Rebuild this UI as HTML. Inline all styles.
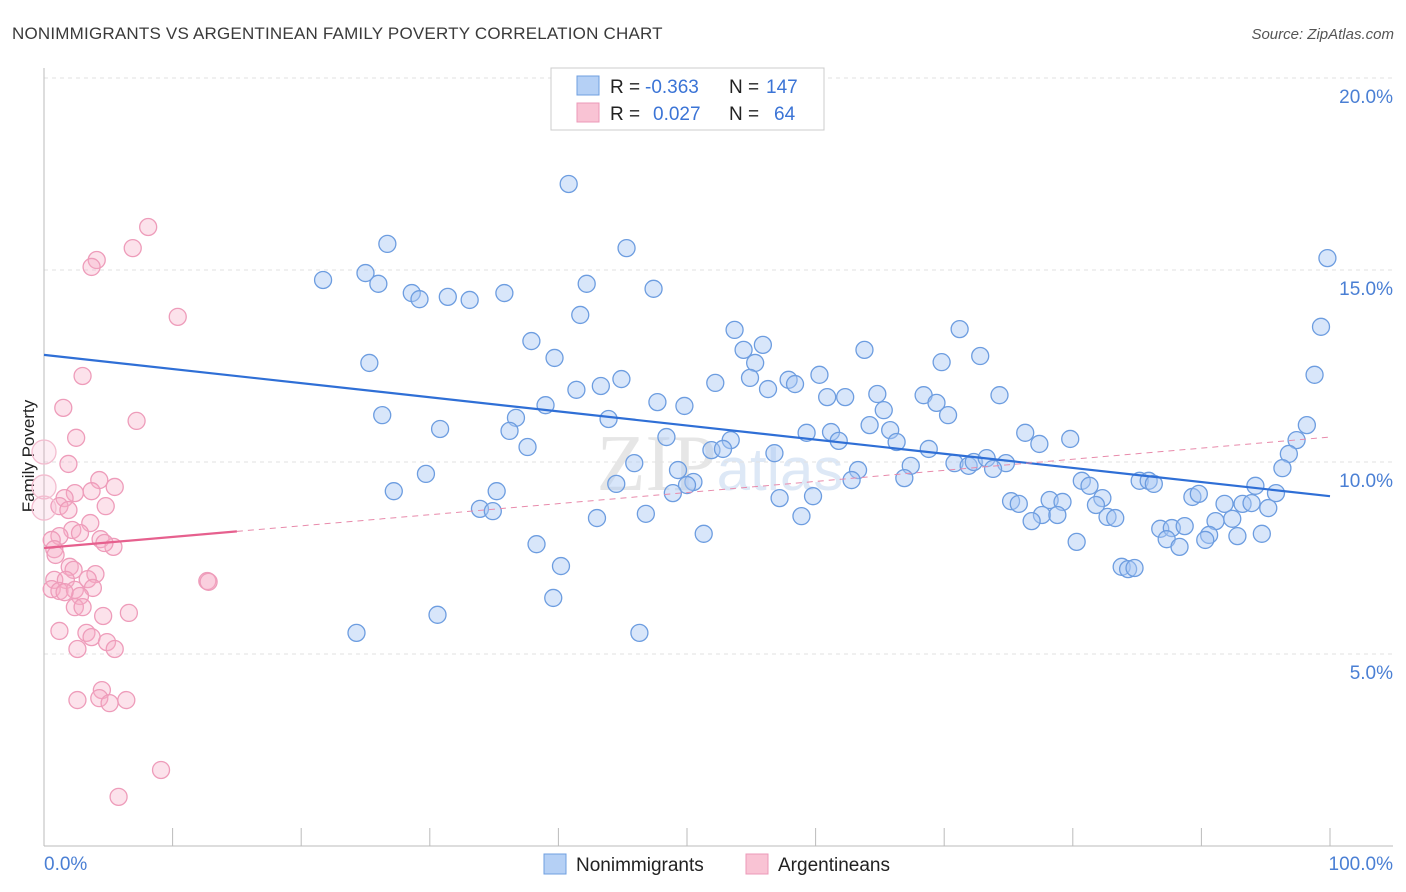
<!DOCTYPE html>
<html><head><meta charset="utf-8">
<style>
body{margin:0;background:#fff;font-family:"Liberation Sans",sans-serif;}
svg{display:block}
</style></head>
<body>
<svg id="chart" width="1406" height="892" xmlns="http://www.w3.org/2000/svg">
<text x="12" y="39" font-size="17" fill="#3a3a3a" letter-spacing="0.2">NONIMMIGRANTS VS ARGENTINEAN FAMILY POVERTY CORRELATION CHART</text>
<text x="1394" y="39" font-size="15" fill="#555" font-style="italic" text-anchor="end">Source: ZipAtlas.com</text>
<text transform="translate(34,456) rotate(-90)" font-size="17" fill="#222" text-anchor="middle">Family Poverty</text>
<text x="720" y="490" font-size="80" fill="#e6e6e6" text-anchor="middle" font-family="Liberation Serif">ZIP<tspan fill="#dde8f6" font-family="Liberation Sans" font-size="60">atlas</tspan></text>
<g id="grid"></g>
<g id="axes"></g>
<g id="pink"></g>
<g id="blue"></g>
<g id="trends"></g>
<g>
<rect x="551" y="68" width="273" height="62" fill="#fff" stroke="#ccc"/>
<rect x="577" y="76" width="22" height="19" fill="#b5d0f5" stroke="#6f9fe0"/>
<rect x="577" y="103" width="22" height="19" fill="#f9c3d4" stroke="#ec9ab8"/>
<text x="610" y="93" font-size="19" fill="#222">R =</text>
<text x="645" y="93" font-size="19" fill="#3b74d6">-0.363</text>
<text x="729" y="93" font-size="19" fill="#222">N =</text>
<text x="766" y="93" font-size="19" fill="#3b74d6">147</text>
<text x="610" y="120" font-size="19" fill="#222">R =</text>
<text x="653" y="120" font-size="19" fill="#3b74d6">0.027</text>
<text x="729" y="120" font-size="19" fill="#222">N =</text>
<text x="774" y="120" font-size="19" fill="#3b74d6">64</text>
</g>
<g>
<rect x="544" y="854" width="22" height="20" fill="#b5d0f5" stroke="#6f9fe0"/>
<text x="576" y="871" font-size="19" fill="#222">Nonimmigrants</text>
<rect x="746" y="854" width="22" height="20" fill="#f9c3d4" stroke="#ec9ab8"/>
<text x="778" y="871" font-size="19" fill="#222">Argentineans</text>
</g>
</svg>
<script>
const blueX=[40.8,26.7,45.3,99.8,21.7,25.0,26.0,28.6,29.2,31.4,33.1,35.8,42.2,47.4,41.7,99.3,53.7,71.2,37.9,54.4,55.9,63.8,25.3,39.7,55.3,69.8,72.8,98.8,44.9,52.2,54.9,57.9,58.4,60.3,41.4,43.3,56.3,60.9,62.3,64.8,68.4,74.3,47.7,49.8,39.0,69.4,26.3,65.3,70.3,36.7,43.9,98.2,30.8,36.2,48.4,59.3,61.2,64.2,65.8,76.3,97.4,53.4,61.8,66.3,77.4,79.8,37.6,51.9,52.8,56.8,68.8,96.8,45.9,70.8,71.9,72.3,73.3,74.8,73.8,67.4,63.3,49.3,96.3,29.7,62.8,66.9,50.5,50.0,44.5,80.7,81.3,85.2,85.9,86.3,94.2,35.2,27.2,48.9,57.2,59.8,89.3,89.8,95.8,82.3,75.2,75.8,78.2,79.2,81.8,91.8,93.2,93.9,95.2,33.9,34.9,43.0,46.8,58.9,77.6,78.8,76.8,82.7,83.3,91.1,92.4,86.8,87.7,88.7,87.3,90.6,88.3,92.8,94.7,90.3,51.3,38.3,80.3,40.2,83.8,84.3,84.8,39.6,30.6,24.3,46.3];
const blueY=[17.24,15.68,15.57,15.31,14.74,14.92,14.64,14.40,14.24,14.30,14.22,14.40,14.64,14.51,13.83,13.52,13.44,13.46,13.15,12.92,13.05,12.92,12.58,12.71,12.58,12.60,12.76,12.27,12.16,12.06,12.19,12.14,12.03,12.27,11.88,11.98,11.90,11.69,11.69,11.77,11.74,11.74,11.56,11.46,11.48,11.54,11.22,11.35,11.22,11.15,11.12,10.96,10.86,10.81,10.65,10.76,10.78,10.96,10.83,10.76,10.57,10.57,10.55,10.52,10.47,10.60,10.39,10.31,10.34,10.23,10.34,10.21,9.97,9.97,9.90,10.00,10.10,9.97,9.82,9.90,9.79,9.79,9.84,9.69,9.53,9.58,9.48,9.40,9.43,9.51,9.38,9.51,9.51,9.43,9.38,9.24,9.24,9.19,9.06,9.11,9.09,9.17,9.19,9.06,8.98,8.91,9.01,8.96,8.88,8.91,8.91,8.93,8.80,8.78,8.72,8.54,8.65,8.59,8.62,8.62,8.46,8.57,8.54,8.46,8.52,8.26,8.28,8.33,7.99,8.10,7.79,8.07,8.13,7.97,8.13,7.86,7.92,7.29,7.27,7.21,7.24,6.46,6.02,5.55,5.55];
const pinkX=[8.1,6.9,4.1,3.7,10.4,3.0,1.5,7.2,2.5,0.0,1.9,4.3,0.0,5.5,2.4,3.7,1.6,1.2,1.9,4.8,0.0,3.6,2.2,1.2,2.8,4.4,0.6,0.8,5.4,4.7,0.9,2.0,2.3,4.0,0.8,1.7,3.4,12.7,12.8,0.6,1.2,3.8,2.4,2.8,1.6,2.4,3.0,6.6,4.6,1.2,3.3,3.7,4.9,2.6,5.5,4.5,2.6,4.3,5.1,6.4,9.1,5.8];
const pinkY=[16.12,15.57,15.26,15.08,13.78,12.24,11.41,11.07,10.63,10.26,9.95,9.53,9.35,9.35,9.19,9.24,9.06,8.85,8.75,8.85,8.80,8.41,8.23,8.07,8.15,7.99,7.97,7.73,7.79,7.89,7.58,7.27,7.19,7.08,6.93,6.93,6.95,6.90,6.88,6.69,6.64,6.72,6.67,6.51,6.61,6.22,6.22,6.07,5.99,5.60,5.55,5.44,5.31,5.13,5.13,4.06,3.80,3.85,3.72,3.80,1.98,1.28];
const pinkBig=[0,0,0,0,0,0,0,0,0,1,0,0,1,0,0,0,0,0,0,0,1,0,0,0,0,0,0,0,0,0,0,0,0,0,0,0,0,0,0,0,0,0,0,0,0,0,0,0,0,0,0,0,0,0,0,0,0,0,0,0,0,0];
const yTicks=[5,10,15,20];
const xTickLabels=["0.0%","100.0%"];
const blueTrend=[12.79,9.11];
const pinkTrend=[7.76,10.65];
const pinkSolidEnd=15;

const NS="http://www.w3.org/2000/svg";
const X0=44,X1=1330,Y0=846,PXPER=38.4;
const sx=v=>X0+(X1-X0)*v/100;
const sy=v=>Y0-v*PXPER;
function mk(tag,attrs,parent){const e=document.createElementNS(NS,tag);for(const k in attrs)e.setAttribute(k,attrs[k]);parent.appendChild(e);return e;}
const grid=document.getElementById('grid'),axes=document.getElementById('axes');
yTicks.forEach(t=>{
  const l=mk('line',{x1:X0,x2:1393,y1:sy(t),y2:sy(t),stroke:'#e2e2e2','stroke-dasharray':'4,4'},grid);
  
  
  const tx=mk('text',{x:1393,y:sy(t)+25,'font-size':19,fill:'#4a7fd4','text-anchor':'end'},grid);
  tx.textContent=t.toFixed(1)+'%';
  
  
});
const xa=mk('line',{x1:X0,x2:1393,y1:Y0,y2:Y0,stroke:'#bbb'},axes);


const ya=mk('line',{x1:X0,x2:X0,y1:68,y2:Y0,stroke:'#bbb'},axes);


for(let i=0;i<=10;i++){
  const t=mk('line',{x1:sx(i*10),x2:sx(i*10),y1:828,y2:Y0,stroke:'#bbb'},axes);
  
  
}
const xl0=mk('text',{x:44,y:870,'font-size':19,fill:'#4a7fd4'},axes);xl0.textContent=xTickLabels[0];


const xl1=mk('text',{x:1393,y:870,'font-size':19,fill:'#4a7fd4','text-anchor':'end'},axes);xl1.textContent=xTickLabels[1];



const pg=document.getElementById('pink');
pinkX.forEach((v,i)=>{
  const big=pinkBig[i];
  const c=mk('circle',{cx:sx(v),cy:sy(pinkY[i]),r:big?12:8.5,fill:big?'rgba(246,172,198,0.2)':'rgba(246,172,198,0.35)',stroke:big?'#f3bccf':'#ee9cba','stroke-width':1.3},pg);
  
  
});
const bg=document.getElementById('blue');
blueX.forEach((v,i)=>{
  const c=mk('circle',{cx:sx(v),cy:sy(blueY[i]),r:8.5,fill:'rgba(168,200,244,0.45)',stroke:'#6d9de0','stroke-width':1.3},bg);
  
  
});
const tg=document.getElementById('trends');
const bl=mk('line',{x1:sx(0),y1:sy(blueTrend[0]),x2:sx(100),y2:sy(blueTrend[1]),stroke:'#2f6fd6','stroke-width':2.2},tg);


const pMid=pinkTrend[0]+(pinkTrend[1]-pinkTrend[0])*pinkSolidEnd/100;
const pd=mk('line',{x1:sx(pinkSolidEnd),y1:sy(pMid),x2:sx(100),y2:sy(pinkTrend[1]),stroke:'#e88aab','stroke-width':1,'stroke-dasharray':'6,5'},tg);


const ps=mk('line',{x1:sx(0),y1:sy(pinkTrend[0]),x2:sx(pinkSolidEnd),y2:sy(pMid),stroke:'#e6608e','stroke-width':2.2},tg);


</script>
</body></html>
